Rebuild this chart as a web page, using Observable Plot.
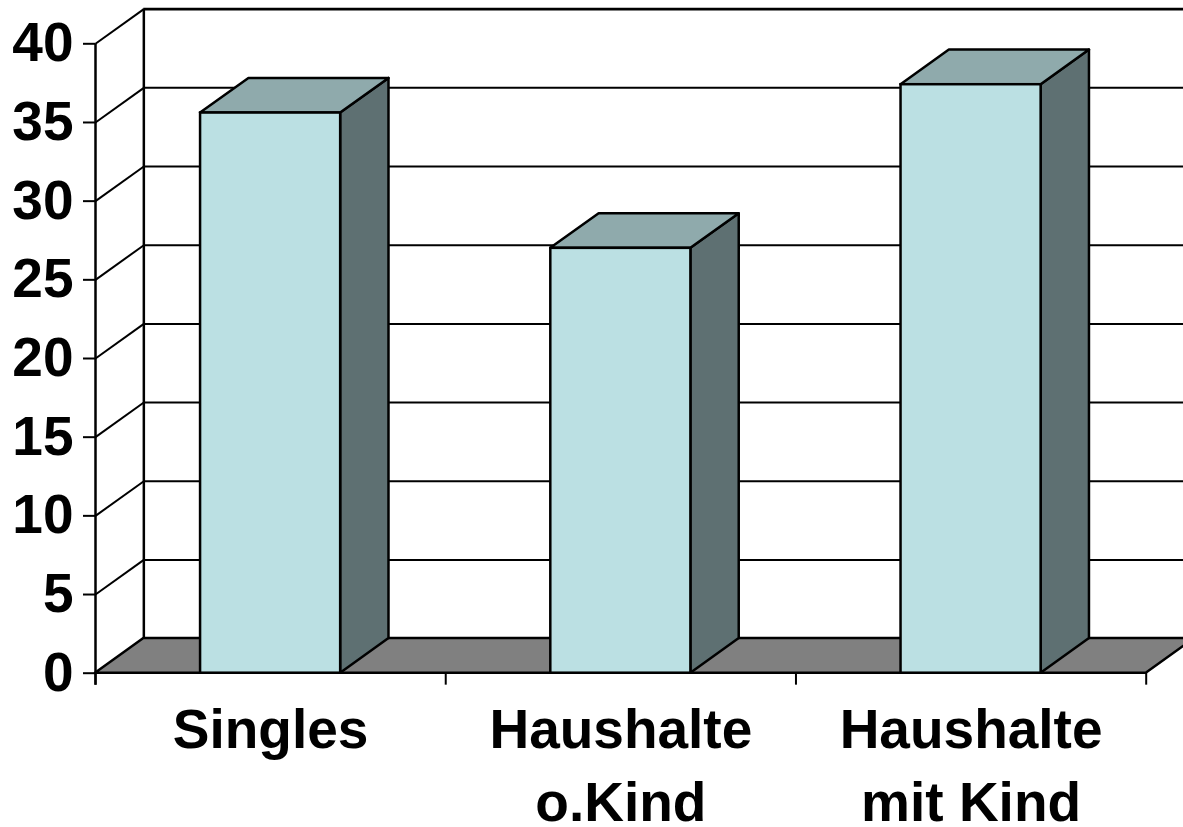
<!DOCTYPE html>
<html><head><meta charset="utf-8">
<script src="https://cdn.jsdelivr.net/npm/d3@7"></script>
<script src="https://cdn.jsdelivr.net/npm/@observablehq/plot@0.6"></script>
<style>body{margin:0;background:#fff;overflow:hidden}</style>
</head><body><div id="chart"></div>
<script>
const categories = ["Singles", "Haushalte\no.Kind", "Haushalte\nmit Kind"];
const values = [35.6, 27.0, 37.4];
const yTicks = [0, 5, 10, 15, 20, 25, 30, 35, 40];

// 3D depth offset expressed in data units
const DX = 0.138, DY = 2.2;
const BAR_L = 0.3, BAR_R = 0.7;
const WALL_END = 3.4;
const TICK = 0.76;

const bars = categories.map((c, i) => ({cat: c, i, v: values[i], x1: i + BAR_L, x2: i + BAR_R}));
const topFace = bars.flatMap(b => [
  {cat: b.cat, y: b.v, x1: b.x1, x2: b.x2},
  {cat: b.cat, y: b.v + DY, x1: b.x1 + DX, x2: b.x2 + DX}
]);
const sideFace = bars.flatMap(b => [
  {cat: b.cat, x: b.x2, y1: 0, y2: b.v},
  {cat: b.cat, x: b.x2 + DX, y1: DY, y2: b.v + DY}
]);
const floor = [{y: 0, x1: 0, x2: 3}, {y: DY, x1: DX, x2: 3 + DX}];
const catTicks = [0, 1, 2, 3];

const font = "'Liberation Sans', Arial, Helvetica, sans-serif";
const K = "#000";

const chart = Plot.plot({
  width: 1183,
  height: 827,
  marginLeft: 0, marginRight: 0, marginTop: 0, marginBottom: 0,
  axis: null,
  x: {domain: [0, 3], range: [95, 1145.7]},
  y: {domain: [0, 40], range: [672.7, 43.3]},
  style: {fontFamily: font, fontWeight: "bold", background: "#fff", overflow: "hidden"},
  marks: [
    // back wall gridlines
    Plot.ruleY(yTicks.filter(t => t > 0), {y: t => t + DY, x1: DX, x2: WALL_END, stroke: K, strokeWidth: t => t === 40 ? 2.8 : 2}),
    Plot.ruleX([DX], {y1: DY, y2: 40 + DY, stroke: K, strokeWidth: 2.5}),
    // side wall gridlines
    Plot.link(yTicks, {x1: 0, y1: t => t, x2: DX, y2: t => t + DY, stroke: K, strokeWidth: 2}),
    // floor
    Plot.areaX(floor, {y: "y", x1: "x1", x2: "x2", fill: "#808080", stroke: K, strokeWidth: 2.5, strokeLinejoin: "round"}),
    // bars
    Plot.areaY(sideFace, {x: "x", y1: "y1", y2: "y2", z: "cat", fill: "#5E7072", stroke: K, strokeWidth: 2.5, strokeLinejoin: "round"}),
    Plot.areaX(topFace, {y: "y", x1: "x1", x2: "x2", z: "cat", fill: "#8FAAAC", stroke: K, strokeWidth: 2.5, strokeLinejoin: "round"}),
    Plot.rect(bars, {x1: "x1", x2: "x2", y1: 0, y2: "v", fill: "#BBE0E3", stroke: K, strokeWidth: 2.5}),
    // front axis
    Plot.ruleX([0], {y1: -TICK, y2: 40, stroke: K, strokeWidth: 2.5}),
    Plot.ruleX(catTicks, {y1: 0, y2: -TICK, stroke: K, strokeWidth: 2}),
    Plot.ruleY(yTicks, {x1: -12 / 350.2, x2: 0, stroke: K, strokeWidth: 2}),
    // labels
    Plot.text(yTicks, {x: 0, y: t => t, text: t => String(t), textAnchor: "end", dx: -22, fontSize: 55, fontWeight: "bold", fill: K}),
    Plot.text(bars, {x: b => b.i + 0.5, y: 0, text: "cat", dy: 22, lineAnchor: "top", lineHeight: 1.34, fontSize: 55, fontWeight: "bold", fill: K})
  ]
});
document.getElementById("chart").appendChild(chart);
</script>
</body></html>
